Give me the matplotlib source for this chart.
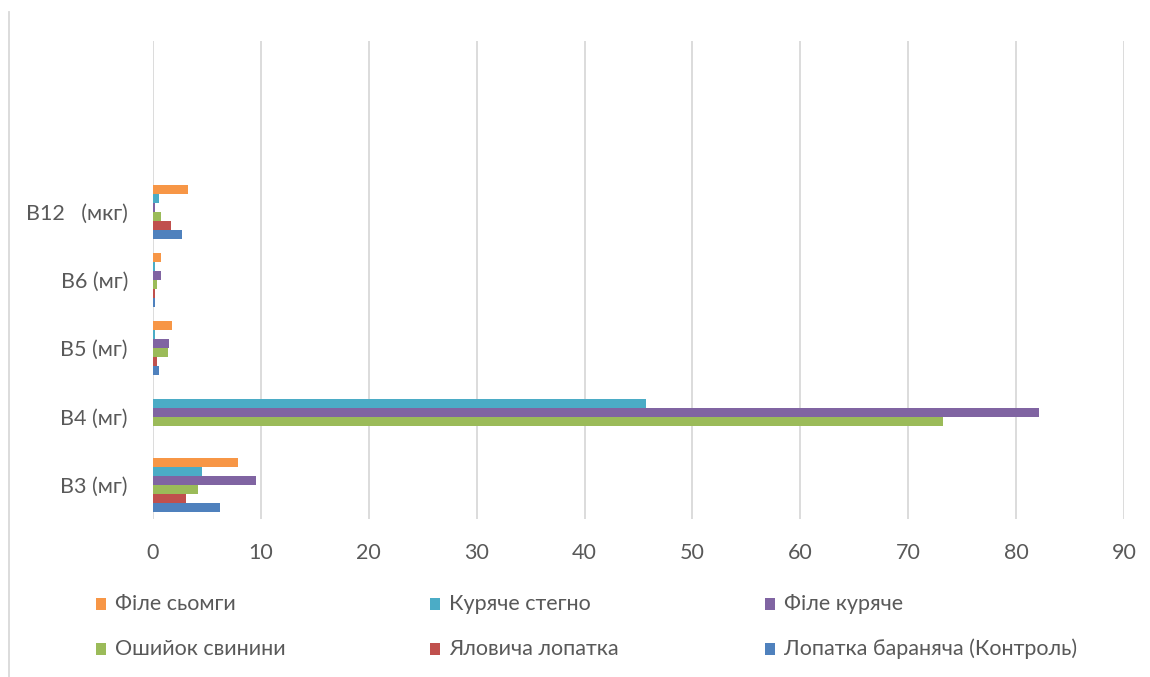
import matplotlib
matplotlib.use("Agg")
import matplotlib.pyplot as plt
from matplotlib.patches import Rectangle
from matplotlib.lines import Line2D
import numpy as np

plt.rcParams['font.family'] = ['Lato', 'DejaVu Sans']

# Vitamin groups (bottom to top); two empty slots keep space above the chart
categories = ["B3 (мг)", "B4 (мг)", "B5 (мг)", "B6 (мг)", "B12   (мкг)", "", ""]

# Series, in drawing order (first series sits at the bottom of each group)
series_names = [
    "Лопатка бараняча (Контроль)",
    "Яловича лопатка",
    "Ошийок свинини",
    "Філе куряче",
    "Куряче стегно",
    "Філе сьомги",
]
lopatka_baranyacha = [6.2, 0, 0.6, 0.15, 2.65, 0, 0]
yalovycha_lopatka = [3.05, 0, 0.4, 0.2, 1.7, 0, 0]
oshyiok_svynyny = [4.15, 73.2, 1.35, 0.4, 0.78, 0, 0]
file_kuryache = [9.57, 82.1, 1.52, 0.78, 0.22, 0, 0]
kuryache_stehno = [4.52, 45.7, 0.2, 0.2, 0.6, 0, 0]
file_somgy = [7.9, 0, 1.72, 0.78, 3.2, 0, 0]
series_values = [lopatka_baranyacha, yalovycha_lopatka, oshyiok_svynyny,
                 file_kuryache, kuryache_stehno, file_somgy]
colors = ["#4F81BD", "#C0504D", "#9BBB59", "#8064A2", "#4BACC6", "#F79646"]

x_ticks = [0, 10, 20, 30, 40, 50, 60, 70, 80, 90]

text_color = "#595959"
grid_color = "#D9D9D9"
font_size = 15.5

fig = plt.figure(figsize=(11.5, 6.77), dpi=100)
ax = fig.add_axes([153 / 1150, 1 - 519 / 677, (1124 - 153) / 1150, (519 - 41) / 677])

n = len(series_values)
bar_h = 0.132
y = np.arange(len(categories))
for i, (vals, col) in enumerate(zip(series_values, colors)):
    offs = (i - (n - 1) / 2) * bar_h
    ax.barh(y + offs, vals, height=bar_h, color=col, linewidth=0, zorder=3)

ax.set_ylim(-0.5, len(categories) - 0.5)
ax.set_xlim(0, 90)
ax.set_xticks(x_ticks)
ax.set_xticklabels([str(t) for t in x_ticks])
ax.set_yticks(y)
ax.set_yticklabels(categories)
ax.tick_params(axis='both', length=0, colors=text_color, labelsize=font_size)
ax.tick_params(axis='x', pad=17)
ax.tick_params(axis='y', pad=18)
ax.grid(axis='x', color=grid_color, linewidth=1.3, zorder=0)
for s in ax.spines.values():
    s.set_visible(False)

# Legend: three columns, two rows, read left to right from the top series down
legend_order = [5, 4, 3, 2, 1, 0]
col_x = [96, 430, 765]
row_y = [604, 649]
for k, idx in enumerate(legend_order):
    r, c = divmod(k, 3)
    x0 = col_x[c]
    y0 = row_y[r]
    fig.add_artist(Rectangle((x0 / 1150, 1 - (y0 + 6) / 677), 10 / 1150, 12 / 677,
                             transform=fig.transFigure, color=colors[idx], linewidth=0))
    fig.text((x0 + 19) / 1150, 1 - y0 / 677, series_names[idx], color=text_color,
             fontsize=font_size, ha='left', va='center')

# Chart-area border on the left edge
fig.add_artist(Line2D([9 / 1150, 9 / 1150], [0, 1 - 12 / 677],
                      transform=fig.transFigure, color=grid_color, linewidth=1.3))

fig.savefig("out.png", dpi=100)
